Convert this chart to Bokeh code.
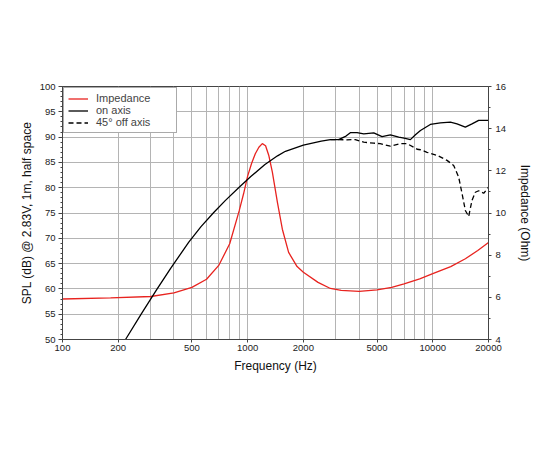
# Speaker response chart: SPL on/off axis plus impedance.
from bokeh.plotting import figure
from bokeh.models import Range1d, LinearAxis, FixedTicker, PrintfTickFormatter, Legend, LegendItem
from bokeh.embed import file_html
from bokeh.resources import INLINE

# Impedance curve (Ohm, right axis)
imp_freq = [100, 182, 300, 400, 500, 600, 700, 800, 900, 950, 1000, 1050, 1100, 1150,
            1200, 1250, 1300, 1360, 1450, 1540, 1665, 1850, 2000, 2400, 2800, 3200, 4000, 5000,
            6000, 7000, 8500, 10000, 12500, 15000, 17500, 20000]
imp_ohm = [5.92, 5.97, 6.04, 6.21, 6.47, 6.86, 7.53, 8.54, 10.1, 10.9, 11.75, 12.35,
           12.81, 13.12, 13.29, 13.19, 12.74, 11.94, 10.48, 9.23, 8.13, 7.46, 7.19, 6.71, 6.42,
           6.33, 6.28, 6.35, 6.47, 6.64, 6.88, 7.12, 7.46, 7.83, 8.22, 8.6]

# On axis SPL (dB)
on_freq = [219, 266, 322, 383, 481, 560, 656, 759, 900, 1040, 1240, 1450, 1600,
           2000, 2500, 2800, 3100, 3400, 3600, 3900, 4240, 4800, 5320, 5900, 6550, 7000, 7570,
           8060, 8580, 9700, 10990, 12450, 13520, 14990, 16290, 17700, 20000]
on_spl = [50.0, 55.0, 59.8, 64.0, 69.25, 72.3, 75.1, 77.5, 80.1, 82.2, 84.6, 86.3, 87.2,
          88.4, 89.2, 89.5, 89.5, 90.2, 90.9, 90.9, 90.65, 90.85, 90.1, 90.45, 90.0,
          89.8, 89.5, 90.45, 91.3, 92.5, 92.8, 92.95, 92.6, 91.96, 92.6, 93.3, 93.3]

# 45 degree off axis SPL (dB)
off_freq = [2800, 3100, 3440, 3815, 4240, 4800, 5200, 5900, 6700, 7260, 7890, 8230, 8580, 9310,
            10540, 11940, 12970, 13800, 14400, 15000, 15630, 16290, 16980, 17700, 18840, 20000]
off_spl = [89.5, 89.5, 89.46, 89.5, 89.0, 88.8, 88.7, 88.2, 88.7, 88.7, 88.0, 87.6, 87.5, 87.0,
           86.4, 85.4, 84.4, 82.1, 78.8, 75.5, 74.3, 77.5, 79.1, 79.4, 78.9, 80.1]

x_labels = [100, 200, 500, 1000, 2000, 5000, 10000, 20000]
x_grid = [100, 200, 300, 400, 500, 600, 700, 800, 900, 1000, 2000, 3000, 4000, 5000,
          6000, 7000, 8000, 9000, 10000, 20000]

FONT = "Liberation Sans"
AX = "#444444"

p = figure(x_axis_type="log", x_range=Range1d(100, 20000), y_range=Range1d(50, 100),
           frame_width=426, frame_height=253, min_border_left=62, min_border_right=54,
           min_border_top=86, min_border_bottom=96,
           output_backend="svg", toolbar_location=None,
           x_axis_label="Frequency (Hz)", y_axis_label="SPL (dB) @ 2.83V, 1m, half space")
p.extra_y_ranges = {"imp": Range1d(4, 16)}
p.outline_line_color = AX
p.background_fill_color = "white"

# grids
p.xgrid.ticker = FixedTicker(ticks=x_grid)
p.ygrid.ticker = FixedTicker(ticks=list(range(50, 101, 5)))
for g in (p.xgrid[0], p.ygrid[0]):
    g.grid_line_color = "#b4b4b4"
    g.grid_line_width = 1

# x axis
xa = p.xaxis[0]
xa.ticker = FixedTicker(ticks=x_labels)
xa.formatter = PrintfTickFormatter(format="%d")
xa.major_tick_out = 3
xa.major_tick_in = 0
xa.minor_tick_out = 0
xa.major_label_standoff = 2

# left axis
ya = p.yaxis[0]
ya.ticker = FixedTicker(ticks=list(range(50, 101, 5)), minor_ticks=list(range(50, 101)))
ya.major_tick_out = 4
ya.major_tick_in = 0
ya.minor_tick_out = 2
ya.minor_tick_in = 0
ya.major_label_standoff = 3
ya.axis_label_standoff = 3

# right axis
ra = LinearAxis(y_range_name="imp", axis_label="Impedance (Ohm)",
                ticker=FixedTicker(ticks=list(range(4, 17, 2)), minor_ticks=list(range(5, 16, 2))))
ra.major_tick_out = 3
ra.major_tick_in = 0
ra.minor_tick_out = 2
ra.minor_tick_in = 0
ra.major_label_standoff = 4
ra.axis_label_standoff = 9
p.add_layout(ra, "right")

for a in (xa, ya, ra):
    a.axis_line_color = AX
    a.major_tick_line_color = AX
    a.minor_tick_line_color = AX
    a.major_label_text_font = FONT
    a.major_label_text_font_size = "9.5px"
    a.major_label_text_color = "#222222"
    a.axis_label_text_font = FONT
    a.axis_label_text_font_size = "12px"
    a.axis_label_text_font_style = "normal"
    a.axis_label_text_color = "#111111"
xa.axis_label_standoff = 5

r_imp = p.line(imp_freq, imp_ohm, y_range_name="imp", color="#e8231f", line_width=1.3)
r_on = p.line(on_freq, on_spl, color="black", line_width=1.3)
r_off = p.line(off_freq, off_spl, color="black", line_width=1.3, line_dash="5 3")

legend = Legend(items=[LegendItem(label="Impedance", renderers=[r_imp]),
                       LegendItem(label="on axis", renderers=[r_on]),
                       LegendItem(label="45\u00b0 off axis", renderers=[r_off])],
                location="top_left")
legend.margin = 1
legend.padding = 4
legend.spacing = 0
legend.glyph_width = 20
legend.glyph_height = 11
legend.label_height = 11
legend.label_width = 76
legend.label_standoff = 8
legend.label_text_font = FONT
legend.label_text_font_size = "11px"
legend.label_text_line_height = 1.0
legend.border_line_color = "#555555"
legend.border_line_width = 1
legend.background_fill_alpha = 1
p.add_layout(legend)

open("out.html", "w").write(file_html(p, INLINE))
